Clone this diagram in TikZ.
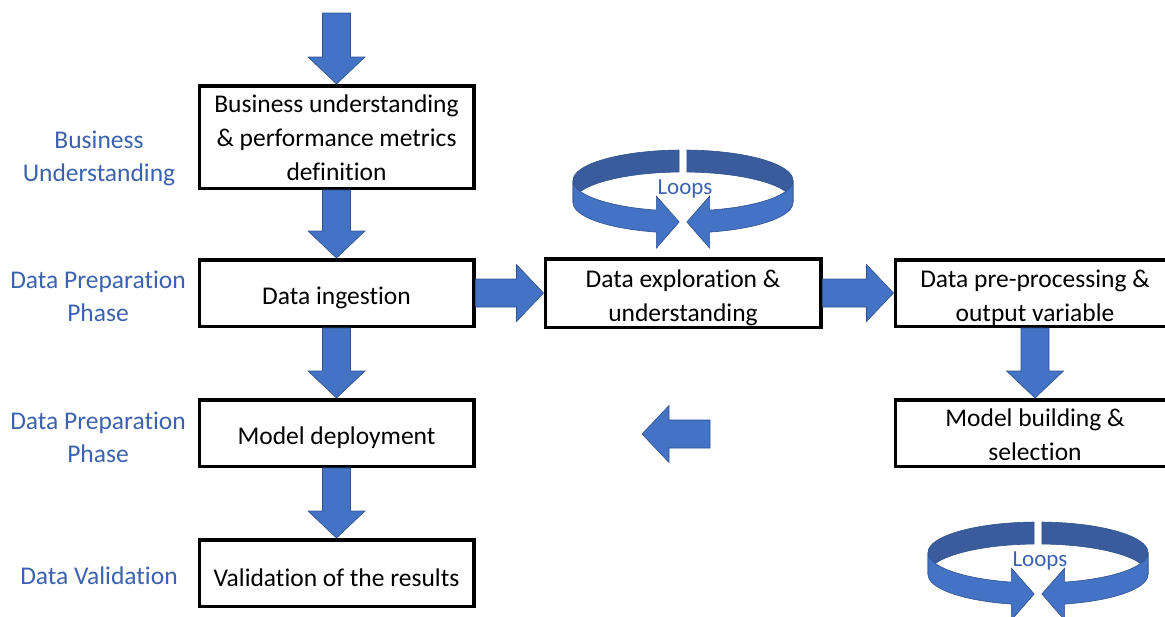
\documentclass[tikz,border=0pt]{standalone}
\usepackage{fontspec}
\setmainfont{Carlito}[Ligatures={NoCommon,NoContextual}]
\usepackage{tikz}
\usetikzlibrary{calc,positioning}
\definecolor{accblue}{HTML}{4472C4}
\definecolor{accdark}{HTML}{2F528F}
\definecolor{ringback}{HTML}{3A5C9C}
\definecolor{labblue}{HTML}{3C62AE}
\newcommand{\tstrut}[1][28pt]{\rule{0pt}{#1}}
\tikzstyle{stage}=[draw,line width=3.5pt,minimum width=274.5pt,minimum height=66.5pt,inner ysep=0pt,align=center,font=\fontsize{25.5}{34}\selectfont,execute at begin node=\tstrut]
\tikzstyle{phase}=[text=labblue,align=center,font=\fontsize{25.5}{33}\selectfont]
\tikzstyle{looptext}=[text=labblue,anchor=base,font=\fontsize{23}{28}\selectfont]
\tikzstyle{ring}=[draw=accdark,line width=0.6pt]
\tikzstyle{barrow}=[fill=accblue,draw=accdark,line width=0.6pt,
  to path={let \p1=($(\tikztotarget)-(\tikztostart)$),\n1={veclen(\x1,\y1)} in
    ($(\tikztostart)+({-14*\y1/\n1},{14*\x1/\n1})$)
    -- ($(\tikztotarget)+({-27*\x1/\n1-14*\y1/\n1},{-27*\y1/\n1+14*\x1/\n1})$)
    -- ($(\tikztotarget)+({-27*\x1/\n1-28.5*\y1/\n1},{-27*\y1/\n1+28.5*\x1/\n1})$)
    -- (\tikztotarget)
    -- ($(\tikztotarget)+({-27*\x1/\n1+28.5*\y1/\n1},{-27*\y1/\n1-28.5*\x1/\n1})$)
    -- ($(\tikztotarget)+({-27*\x1/\n1+14*\y1/\n1},{-27*\y1/\n1-14*\x1/\n1})$)
    -- ($(\tikztostart)+({14*\y1/\n1},{-14*\x1/\n1})$) -- cycle}]

\begin{document}
\begin{tikzpicture}[x=1pt,y=1pt]
        \useasboundingbox (0,0) rectangle (1165,-616);
        \node[stage,minimum height=102.5pt] (bizbox) at (336.5,-137) {\tstrut[20pt]Business understanding\\\& performance metrics\\definition};
        \node[stage,below=68pt of bizbox] (ingest) {Data ingestion};
        \node[stage,below=70pt of ingest] (deploy) {Model deployment};
        \node[stage,below=70pt of deploy] (valid) {Validation of the results};
        \node[stage,minimum height=68.5pt,minimum width=275.5pt,right=68pt of ingest] (explore) {\tstrut Data exploration \&\\understanding};
        \node[stage,minimum width=279.5pt,right=71pt of explore] (prep) {\tstrut Data pre-processing \&\\output variable};
        \node[stage,minimum width=279.5pt,below=70pt of prep] (build) {\tstrut[22pt]Model building \&\\selection};

        \node[phase] (lbiz) at (99,-158) {Business\\Understanding};
        \node[phase] (lprepa) at (98,-296) {Data Preparation\\Phase};
        \node[phase] (lprepb) at (98,-437) {Data Preparation\\Phase};
        \node[phase] (lvalid) at (99,-576) {Data Validation};

        \coordinate (entry) at (336.5,-13);
        \coordinate (backfrom) at (710,-434);
        \coordinate (backto) at (642,-434);
        \draw[barrow] (entry) to (bizbox.north);
        \draw[barrow] (bizbox.south) to (ingest.north);
        \draw[barrow] (ingest.south) to (deploy.north);
        \draw[barrow] (deploy.south) to (valid.north);
        \draw[barrow] (ingest.east) to (explore.west);
        \draw[barrow] (explore.east) to (prep.west);
        \draw[barrow] (prep.south) to (build.north);
        \draw[barrow] (backfrom) to (backto);

        \foreach \cx/\cy in {683/-180.5,1038/-552.5}{
          \begin{scope}[shift={(\cx,\cy)}]
            \foreach \s in {1,-1}{
              \begin{scope}[xscale=\s]
                \filldraw[ring,fill=ringback] (92:110pt and 30.5pt) arc[start angle=92,end angle=180,x radius=110pt,y radius=30.5pt]
                  -- ++(0,-22) arc[start angle=180,end angle=92,x radius=110pt,y radius=30.5pt] -- cycle;
              \end{scope}}
            \foreach \s in {1,-1}{
              \begin{scope}[xscale=\s]
                \filldraw[ring,fill=accblue] (180:110pt and 30.5pt) arc[start angle=180,end angle=256,x radius=110pt,y radius=30.5pt]
                  -- ++(0,14) -- ($(268:110pt and 30.5pt)+(0,-11)$) -- ($(256:110pt and 30.5pt)+(0,-38)$) -- ++(0,16)
                  arc[start angle=256,end angle=180,x radius=110pt,y radius=30.5pt] -- cycle;
              \end{scope}}
            \node[looptext] (loops\cx) at (2,-14) {Loops};
          \end{scope}}
\end{tikzpicture}
\end{document}
